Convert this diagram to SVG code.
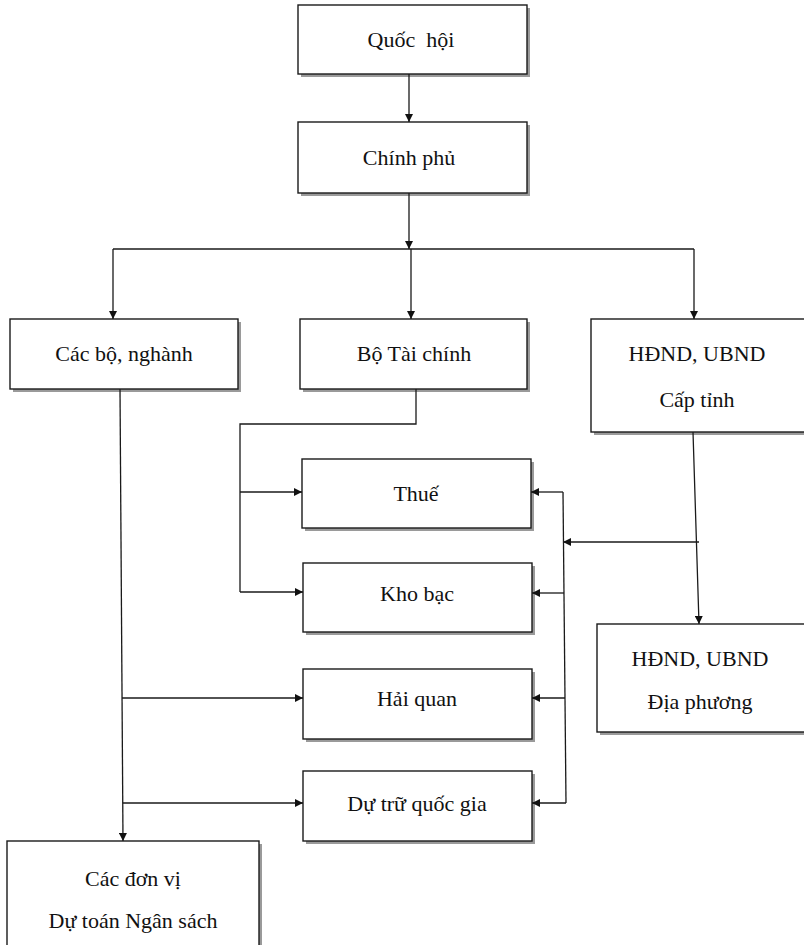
<svg xmlns="http://www.w3.org/2000/svg" width="804" height="945" viewBox="0 0 804 945">
<defs>
<style>
.box{fill:#fff;stroke:#1a1a1a;stroke-width:1.4}
.sh{fill:#9a9a9a}
.t{font-family:"Liberation Serif","Times New Roman",serif;font-size:22px;fill:#111;text-anchor:middle}
.c{fill:none;stroke:#1a1a1a;stroke-width:1.3}
</style>
<marker id="ah" viewBox="0 0 10 10" refX="10" refY="5" markerWidth="9" markerHeight="8" markerUnits="userSpaceOnUse" orient="auto">
<path d="M0,0 L10,5 L0,10 Z" fill="#111"/>
</marker>
</defs>
<rect width="804" height="945" fill="#fff"/>

<g id="quoc-hoi">
<rect class="sh" x="301" y="8" width="229" height="69"/>
<rect class="box" x="298" y="5" width="229" height="69"/>
<text class="t" x="411" y="47">Quốc&#160; hội</text>
</g>
<g id="chinh-phu">
<rect class="sh" x="301" y="125" width="229" height="71"/>
<rect class="box" x="298" y="122" width="229" height="71"/>
<text class="t" x="409" y="165">Chính phủ</text>
</g>
<g id="cac-bo-nganh">
<rect class="sh" x="13" y="322" width="228" height="70"/>
<rect class="box" x="10" y="319" width="228" height="70"/>
<text class="t" x="124" y="361">Các bộ, nghành</text>
</g>
<g id="bo-tai-chinh">
<rect class="sh" x="303" y="322" width="227" height="70"/>
<rect class="box" x="300" y="319" width="227" height="70"/>
<text class="t" x="414" y="361">Bộ Tài chính</text>
</g>
<g id="hdnd-cap-tinh">
<rect class="sh" x="594" y="322" width="220" height="113"/>
<rect class="box" x="591" y="319" width="220" height="113"/>
<text class="t" x="697" y="361">HĐND, UBND</text>
<text class="t" x="697" y="407">Cấp tỉnh</text>
</g>
<g id="thue">
<rect class="sh" x="305" y="462" width="229" height="69"/>
<rect class="box" x="302" y="459" width="229" height="69"/>
<text class="t" x="416" y="501">Thuế</text>
</g>
<g id="kho-bac">
<rect class="sh" x="306" y="566" width="229" height="69"/>
<rect class="box" x="303" y="563" width="229" height="69"/>
<text class="t" x="417" y="601">Kho bạc</text>
</g>
<g id="hai-quan">
<rect class="sh" x="306" y="672" width="229" height="70"/>
<rect class="box" x="303" y="669" width="229" height="70"/>
<text class="t" x="417" y="706">Hải quan</text>
</g>
<g id="du-tru-quoc-gia">
<rect class="sh" x="306" y="774" width="229" height="70"/>
<rect class="box" x="303" y="771" width="229" height="70"/>
<text class="t" x="417" y="811">Dự trữ quốc gia</text>
</g>
<g id="hdnd-dia-phuong">
<rect class="sh" x="600" y="627" width="214" height="108"/>
<rect class="box" x="597" y="624" width="214" height="108"/>
<text class="t" x="700" y="666">HĐND, UBND</text>
<text class="t" x="700" y="709">Địa phương</text>
</g>
<g id="cac-don-vi">
<rect class="sh" x="10" y="844" width="252" height="110"/>
<rect class="box" x="7" y="841" width="252" height="110"/>
<text class="t" x="133" y="886">Các đơn vị</text>
<text class="t" x="133" y="928">Dự toán Ngân sách</text>
</g>

<g id="connectors">
<line class="c" x1="409" y1="74" x2="409" y2="122" marker-end="url(#ah)"/>
<line class="c" x1="409" y1="193" x2="409" y2="249" marker-end="url(#ah)"/>
<line class="c" x1="113" y1="249" x2="694" y2="249"/>
<line class="c" x1="113" y1="249" x2="113" y2="319" marker-end="url(#ah)"/>
<line class="c" x1="411" y1="249" x2="411" y2="319" marker-end="url(#ah)"/>
<line class="c" x1="694" y1="249" x2="694" y2="319" marker-end="url(#ah)"/>
<polyline class="c" points="416,389 416,424 240,424 240,592"/>
<line class="c" x1="240" y1="492" x2="302" y2="492" marker-end="url(#ah)"/>
<line class="c" x1="240" y1="592" x2="303" y2="592" marker-end="url(#ah)"/>
<line class="c" x1="120" y1="389" x2="123" y2="841" marker-end="url(#ah)"/>
<line class="c" x1="122" y1="698" x2="303" y2="698" marker-end="url(#ah)"/>
<line class="c" x1="123" y1="803" x2="303" y2="803" marker-end="url(#ah)"/>
<line class="c" x1="693" y1="432" x2="699" y2="624" marker-end="url(#ah)"/>
<line class="c" x1="699" y1="542" x2="563" y2="542" marker-end="url(#ah)"/>
<line class="c" x1="563" y1="492" x2="566" y2="803"/>
<line class="c" x1="563" y1="492" x2="531" y2="492" marker-end="url(#ah)"/>
<line class="c" x1="564" y1="593" x2="532" y2="593" marker-end="url(#ah)"/>
<line class="c" x1="565" y1="698" x2="532" y2="698" marker-end="url(#ah)"/>
<line class="c" x1="566" y1="803" x2="532" y2="803" marker-end="url(#ah)"/>
</g>
</svg>
